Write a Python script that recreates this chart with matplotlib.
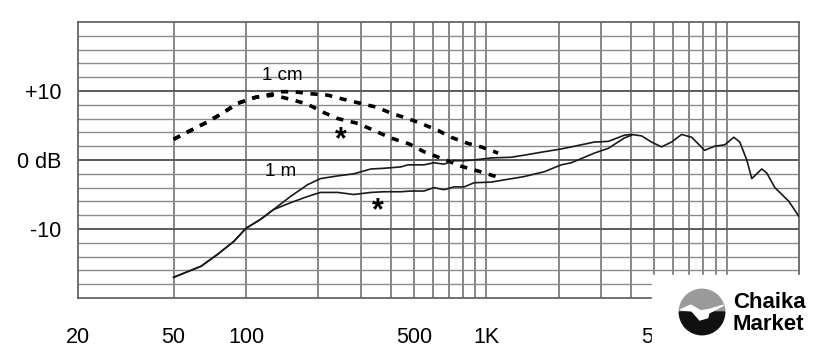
import matplotlib
matplotlib.use('Agg')
import matplotlib.pyplot as plt
from matplotlib.patches import Rectangle, Wedge, Polygon
from matplotlib.ticker import NullLocator

# 1 cm, dashed (upper and *)
freq_cm = [50, 59, 69, 80, 92, 110, 130, 139, 158, 186, 219, 248, 300, 354,
           400, 472, 534, 629, 713, 839, 951, 1120]
db_cm = [3.0, 4.3, 5.5, 6.8, 8.2, 9.1, 9.6, 9.9, 9.9, 9.6, 9.4, 8.9, 8.2, 7.6,
         6.8, 6.0, 5.3, 4.3, 3.3, 2.4, 1.9, 1.0]
freq_cm_star = [50, 59, 69, 80, 92, 110, 130, 153, 180, 210, 241, 292, 340,
                400, 480, 550, 666, 785, 924, 1098]
db_cm_star = [3.0, 4.3, 5.5, 6.8, 8.2, 9.1, 9.4, 8.8, 8.1, 6.9, 6.0, 5.3, 4.3,
              3.2, 2.3, 1.2, 0.1, -0.9, -1.6, -2.4]

# 1 m, solid (upper and *)
freq_m = [50, 65, 76, 89, 100, 115, 130, 153, 180, 204, 241, 281, 331, 375,
          441, 472, 550, 605, 666, 734, 808, 889, 1047, 1269, 1438, 1742, 2050,
          2258, 2816, 3220, 3756, 4018, 4423, 4868, 5358, 5898, 6496, 7150,
          8098, 8918, 9816, 10706, 11342, 12126, 12724, 14002, 14692, 15870,
          18158, 20000]
db_m = [-17.0, -15.4, -13.7, -11.8, -9.9, -8.6, -7.2, -5.3, -3.6, -2.7, -2.3,
        -2.0, -1.3, -1.2, -1.0, -0.7, -0.7, -0.4, -0.6, -0.1, -0.1, 0.0, 0.3,
        0.4, 0.7, 1.2, 1.6, 1.9, 2.6, 2.7, 3.6, 3.7, 3.5, 2.6, 1.9, 2.6, 3.7,
        3.3, 1.4, 2.0, 2.2, 3.3, 2.6, 0.0, -2.7, -1.3, -1.9, -4.0, -6.0, -8.2]
freq_m_star = [50, 65, 76, 89, 100, 115, 130, 153, 180, 204, 241, 281, 331,
               375, 441, 486, 550, 605, 666, 734, 808, 889, 1047, 1438, 1742,
               2050, 2258, 2816, 3220, 3756, 4018]
db_m_star = [-17.0, -15.4, -13.7, -11.8, -9.9, -8.6, -7.2, -6.2, -5.3, -4.7,
             -4.7, -5.0, -4.7, -4.6, -4.6, -4.5, -4.5, -4.0, -4.3, -3.9, -3.9,
             -3.3, -3.2, -2.4, -1.7, -0.7, -0.4, 1.0, 1.7, 3.2, 3.6]

grid_freqs = [50, 100, 200, 300, 400, 500, 600, 700, 800, 900, 1000,
              2000, 3000, 4000, 5000, 6000, 7000, 8000, 9000, 10000]
tick_freqs = [20, 50, 100, 500, 1000, 5000]
tick_labels = ['20', '50', '100', '500', '1K', '5K']
ytick_vals = [10, 0, -10]
ytick_labels = ['+10', '0 dB', '-10']

plt.rcParams['font.family'] = ['Liberation Sans', 'DejaVu Sans']

W, H = 840, 361
fig = plt.figure(figsize=(W / 100, H / 100), dpi=100)
ax = fig.add_axes([78 / W, 1 - 298 / H, (799 - 78) / W, (298 - 22) / H])
ax.set_xscale('log')
ax.set_xlim(20, 20000)
ax.set_ylim(-20, 20)

# grid
for f in grid_freqs:
    ax.axvline(f, color='#666666', lw=1.1, zorder=1)
for d in range(-18, 20, 2):
    if d % 10 == 0:
        ax.axhline(d, color='#5a5a5a', lw=1.4, zorder=1)
    else:
        ax.axhline(d, color='#8a8a8a', lw=1.0, zorder=1)
for s in ax.spines.values():
    s.set_color('#666666')
    s.set_linewidth(1.3)

# curves
dash = (0, (2.0, 2.1))
ax.plot(freq_cm, db_cm, color='black', lw=2.6, ls=dash, zorder=3)
ax.plot(freq_cm_star, db_cm_star, color='black', lw=2.6, ls=dash, zorder=3)
ax.plot(freq_m, db_m, color='#1a1a1a', lw=1.2, zorder=3)
ax.plot(freq_m_star, db_m_star, color='#1a1a1a', lw=1.2, zorder=3)

# labels on curves
ax.text(141, 12.2, '1 cm', fontsize=13.5, ha='center', va='center')
ax.text(139, -1.7, '1 m', fontsize=13.5, ha='center', va='center')
ax.text(248, 2.9, '*', fontsize=22, fontweight='bold', ha='center',
        va='center')
ax.text(354, -7.4, '*', fontsize=22, fontweight='bold', ha='center',
        va='center')

# ticks
ax.set_xticks(tick_freqs, tick_labels)
ax.xaxis.set_minor_locator(NullLocator())
ax.set_yticks(ytick_vals, ytick_labels)
ax.tick_params(axis='both', length=0, labelsize=15.5, colors='black')
ax.tick_params(axis='x', pad=21)
ax.tick_params(axis='y', pad=12)

# watermark box
fig.add_artist(Rectangle((652 / W, 0), 1, (H - 275) / H,
                         transform=fig.transFigure, color='white', zorder=5))
lax = fig.add_axes([(702 - 25) / W, 1 - (312 + 25) / H, 50 / W, 50 / H],
                   zorder=6)
lax.set_xlim(-1.1, 1.1)
lax.set_ylim(-1.1, 1.1)
lax.set_aspect('equal')
lax.axis('off')
lax.add_patch(Wedge((0, 0), 1, 0, 180, color='#9a9a9a'))
lax.add_patch(Wedge((0, 0), 1, 180, 360, color='#111111'))
lax.add_patch(Polygon([(-0.95, 0.1), (-0.45, 0.05), (-0.1, -0.35),
                       (0.25, -0.25), (0.3, -0.05), (0.95, 0.3),
                       (0.35, 0.12), (-0.05, 0.05), (-0.5, 0.3)],
                      color='white'))
fig.text(733 / W, 1 - 303 / H, 'Chaika', fontsize=16, fontweight='bold',
         ha='left', va='center', zorder=7)
fig.text(733 / W, 1 - 324 / H, 'Market', fontsize=16, fontweight='bold',
         ha='left', va='center', zorder=7)

fig.savefig('out.png', dpi=100)
